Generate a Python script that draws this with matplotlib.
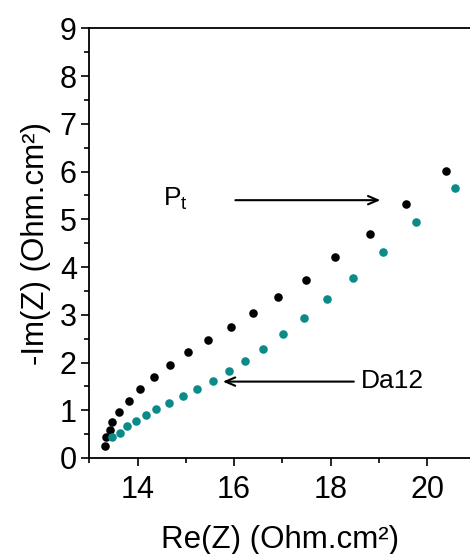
import matplotlib
matplotlib.use("Agg")
import matplotlib.pyplot as plt
from matplotlib.ticker import MultipleLocator

plt.rcParams['font.family'] = ['Liberation Sans', 'DejaVu Sans']

pt_re = [13.32, 13.35, 13.42, 13.48, 13.62, 13.82, 14.05, 14.35, 14.68, 15.05,
         15.47, 15.94, 16.39, 16.92, 17.49, 18.10, 18.81, 19.56, 20.39]
pt_im = [0.26, 0.43, 0.59, 0.76, 0.96, 1.20, 1.45, 1.70, 1.95, 2.22,
         2.48, 2.74, 3.04, 3.38, 3.73, 4.20, 4.69, 5.32, 6.01]

da_re = [13.48, 13.64, 13.79, 13.97, 14.17, 14.39, 14.66, 14.95, 15.24, 15.56,
         15.90, 16.23, 16.61, 17.01, 17.44, 17.93, 18.47, 19.08, 19.78, 20.58]
da_im = [0.43, 0.52, 0.66, 0.78, 0.90, 1.03, 1.16, 1.30, 1.45, 1.62,
         1.82, 2.04, 2.29, 2.59, 2.93, 3.32, 3.78, 4.32, 4.94, 5.65]

fig = plt.figure(figsize=(4.70, 5.54), dpi=100)
ax = fig.add_axes([0.190, 0.1733, 0.810, 0.7756])

ax.scatter(pt_re, pt_im, s=38, color='black', zorder=3, linewidths=0)
ax.scatter(da_re, da_im, s=38, color='#0b8a8a', zorder=3, linewidths=0)

ax.set_xlim(13, 20.89)
ax.set_ylim(0, 9)

ax.spines['right'].set_visible(False)
for s in ['left', 'bottom', 'top']:
    ax.spines[s].set_linewidth(1.3)

ax.xaxis.set_major_locator(MultipleLocator(2))
ax.xaxis.set_minor_locator(MultipleLocator(1))
ax.yaxis.set_major_locator(MultipleLocator(1))
ax.yaxis.set_minor_locator(MultipleLocator(0.5))
ax.tick_params(which='major', direction='out', length=6, width=1.2, labelsize=22, pad=3)
ax.tick_params(axis='x', which='major', pad=6)
ax.tick_params(which='minor', direction='out', length=3.5, width=1.2)
ax.set_xticks([14, 16, 18, 20])

ax.set_xlabel('Re(Z) (Ohm.cm²)', fontsize=22.5, labelpad=15)
ax.set_ylabel('-Im(Z) (Ohm.cm²)', fontsize=22.5, labelpad=6)

ax.annotate('', xy=(19.09, 5.40), xytext=(15.97, 5.40),
            arrowprops=dict(arrowstyle='->,head_length=0.7,head_width=0.3', color='black', lw=1.5))
ax.text(14.53, 5.42, r'P$_\mathregular{t}$', fontsize=19, va='center', ha='left')

ax.annotate('', xy=(15.71, 1.60), xytext=(18.54, 1.60),
            arrowprops=dict(arrowstyle='->,head_length=0.7,head_width=0.3', color='black', lw=1.5))
ax.text(18.62, 1.62, 'Da12', fontsize=19, va='center', ha='left')

fig.savefig('out.png', dpi=100)
